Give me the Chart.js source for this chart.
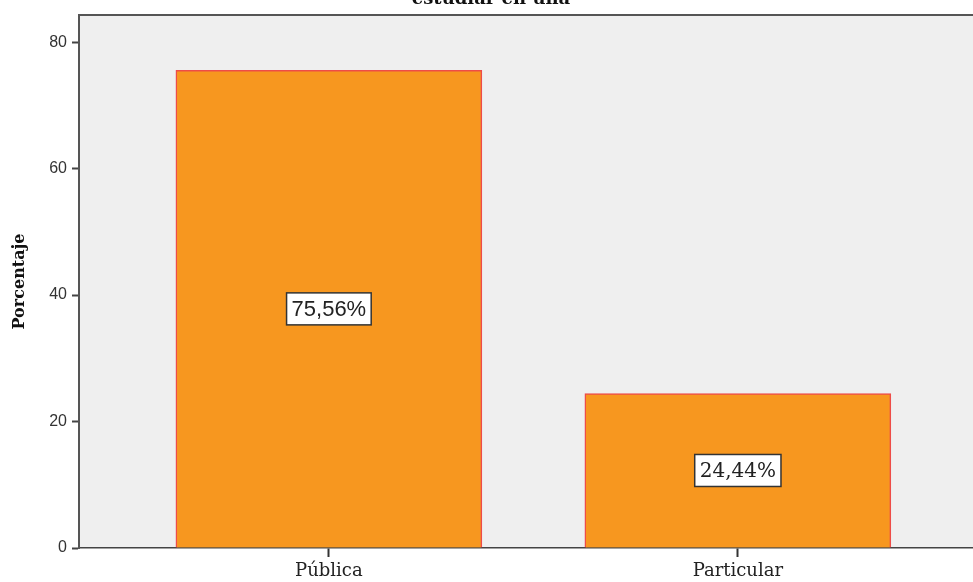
<!DOCTYPE html>
<html>
<head>
<meta charset="utf-8">
<script src="https://cdn.jsdelivr.net/npm/chart.js@4"></script>
<style>
  html, body { margin: 0; padding: 0; background: #fff; }
  #wrap { width: 973px; height: 582px; }
</style>
</head>
<body>
<div id="wrap"><canvas id="chart" width="973" height="582"></canvas></div>
<script>
const categories = ['Pública', 'Particular'];
const percentages = [75.56, 24.44];
const pointLabels = ['75,56%', '24,44%'];
const yTicks = [0, 20, 40, 60, 80];
const chartTitle = 'estudiar en una';

// cut-off title and the top frame line
const framePlugin = {
    id: 'frame',
    beforeDatasetsDraw(chart) {
        const ctx = chart.ctx;
        const a = chart.chartArea;
        ctx.save();
        ctx.strokeStyle = '#555';
        ctx.lineWidth = 2;
        ctx.beginPath();
        ctx.moveTo(a.left, a.top);
        ctx.lineTo(a.right, a.top);
        ctx.stroke();
        ctx.fillStyle = '#111';
        ctx.font = 'bold 18px "DejaVu Serif"';
        ctx.textAlign = 'center';
        ctx.textBaseline = 'alphabetic';
        ctx.fillText(chartTitle, 491, 4);
        ctx.restore();
    }
};

// white boxes with the value in the middle of each bar
const boxLabels = {
    id: 'boxLabels',
    afterDatasetsDraw(chart) {
        const ctx = chart.ctx;
        const meta = chart.getDatasetMeta(0);
        const fonts = ['22px "Liberation Sans"', '20px "DejaVu Serif"'];
        ctx.save();
        meta.data.forEach((bar, i) => {
            const cx = bar.x;
            const cy = (bar.y + bar.base) / 2;
            ctx.font = fonts[i];
            const w = ctx.measureText(pointLabels[i]).width + 10;
            const h = 32;
            ctx.fillStyle = '#fff';
            ctx.fillRect(cx - w / 2, cy - h / 2, w, h);
            ctx.strokeStyle = '#333';
            ctx.lineWidth = 1.5;
            ctx.strokeRect(cx - w / 2, cy - h / 2, w, h);
            ctx.fillStyle = '#222';
            ctx.textAlign = 'center';
            ctx.textBaseline = 'middle';
            ctx.fillText(pointLabels[i], cx, cy + 1);
        });
        ctx.restore();
    }
};

const chartBg = {
    id: 'chartBg',
    beforeDraw(chart) {
        const a = chart.chartArea;
        chart.ctx.save();
        chart.ctx.fillStyle = '#EFEFEF';
        chart.ctx.fillRect(a.left, a.top, a.right - a.left, a.bottom - a.top);
        chart.ctx.restore();
    }
};

new Chart(document.getElementById('chart'), {
    type: 'bar',
    data: {
        datasets: [{
            data: percentages.map((v, i) => ({ x: i, y: v })),
            backgroundColor: '#F7971F',
            borderColor: '#EE4C48',
            borderWidth: 1.5,
            barThickness: 306
        }]
    },
    options: {
        responsive: false,
        animation: false,
        layout: { padding: { top: 15, right: 0, left: 0, bottom: 0 } },
        plugins: {
            legend: { display: false },
            tooltip: { enabled: false }
        },
        scales: {
            x: {
                type: 'linear',
                offset: false,
                min: -0.611,
                max: 1.575,
                afterBuildTicks(scale) {
                    scale.ticks = categories.map((c, i) => ({ value: i }));
                },
                afterFit(scale) { scale.height = 34; },
                grid: {
                    offset: false,
                    drawOnChartArea: false,
                    drawTicks: true,
                    tickLength: 9,
                    tickColor: '#333',
                    tickWidth: 2
                },
                border: { color: '#444', width: 1.5 },
                ticks: {
                    padding: 4,
                    color: '#222',
                    font: { family: 'DejaVu Serif', size: 18 },
                    callback: (v) => categories[v] ?? ''
                }
            },
            y: {
                min: 0,
                max: 84.3,
                afterBuildTicks(scale) {
                    scale.ticks = yTicks.map(v => ({ value: v }));
                },
                afterFit(scale) { scale.width = 79; },
                grid: {
                    drawOnChartArea: false,
                    drawTicks: true,
                    tickLength: 7,
                    tickColor: '#444',
                    tickWidth: 2
                },
                border: { color: '#555', width: 2 },
                ticks: {
                    padding: 5,
                    color: '#333',
                    font: { family: 'Liberation Sans', size: 16 }
                },
                title: {
                    display: true,
                    text: 'Porcentaje',
                    color: '#111',
                    font: { family: 'DejaVu Serif', size: 16, weight: 'bold' },
                    padding: { top: 10, bottom: 0 }
                }
            }
        }
    },
    plugins: [chartBg, framePlugin, boxLabels]
});
</script>
</body>
</html>
